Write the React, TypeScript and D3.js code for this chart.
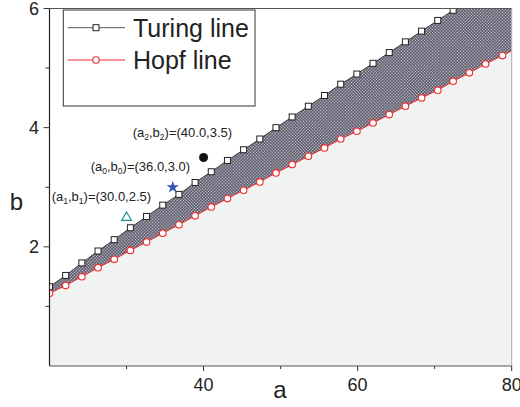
import React from "react";
import * as d3 from "d3";

// ---- Data ----
const turingA = [20.0, 22.1, 24.2, 26.3, 28.4, 30.5, 32.6, 34.7, 36.8, 38.9, 41.0, 43.1, 45.2, 47.3, 49.4, 51.5, 53.6, 55.7, 57.8, 59.9, 62.0, 64.1, 66.2, 68.3, 70.4, 72.4, 74.5, 76.6, 78.8, 80.0];
const turingB = [1.33, 1.52, 1.73, 1.93, 2.12, 2.32, 2.51, 2.70, 2.88, 3.08, 3.26, 3.45, 3.63, 3.81, 4.00, 4.18, 4.36, 4.54, 4.73, 4.90, 5.08, 5.26, 5.44, 5.62, 5.80, 5.97, 6.15, 6.33, 6.51, 6.62];
const turingMarkerCount = 29; // last value is the frame edge, no marker

const hopfA = [20.0, 22.1, 24.2, 26.3, 28.4, 30.5, 32.6, 34.7, 36.8, 38.9, 41.0, 43.1, 45.2, 47.3, 49.4, 51.5, 53.6, 55.7, 57.8, 59.9, 62.0, 64.1, 66.2, 68.3, 70.4, 72.4, 74.5, 76.6, 78.8];
const hopfB = [1.22, 1.35, 1.50, 1.65, 1.79, 1.94, 2.08, 2.23, 2.37, 2.52, 2.67, 2.81, 2.95, 3.09, 3.24, 3.38, 3.52, 3.66, 3.81, 3.94, 4.08, 4.22, 4.36, 4.50, 4.63, 4.78, 4.92, 5.07, 5.21];
const hopfEnd: [number, number] = [80, 5.29];
const hopfStart: [number, number] = [20, 0];

const xDomain = [20, 80];
const yDomain = [0, 6];
const xMajor = [40, 60, 80];
const xMinor = [30, 50, 70];
const yMajor = [2, 4, 6];
const yMinor = [1, 3, 5];

const legendLabels = ["Turing line", "Hopf line"];

const pointsA = [40.0, 36.0, 30.0];
const pointsB = [3.5, 3.0, 2.5];
const pointSub = ["2", "0", "1"];
const pointText = ["(40.0,3.5)", "(36.0,3.0)", "(30.0,2.5)"];

// ---- Layout ----
const W = 520;
const H = 407;
const L = 49.5;
const R = 511.7;
const T = 8.5;
const B = 366;
const FONT = "'Liberation Sans', Arial, Helvetica, sans-serif";
const RED = "#ee2b2b";

export default function App() {
  const x = d3.scaleLinear().domain(xDomain).range([L, R]);
  const y = d3.scaleLinear().domain(yDomain).range([B, T]);

  const turing: [number, number][] = turingA.map((a, i) => [a, turingB[i]]);
  const hopf: [number, number][] = hopfA.map((a, i) => [a, hopfB[i]]);
  const line = d3
    .line<[number, number]>()
    .x((d) => x(d[0]))
    .y((d) => y(d[1]));

  const hatchPoly = [...turing, hopfEnd, ...hopf.slice().reverse()];
  const grayPoly: [number, number][] = [hopfStart, ...hopf, hopfEnd, [80, 0]];
  const redPath: [number, number][] = [hopfStart, ...hopf, hopfEnd];

  const sq = 6;
  const star = d3.symbol().type(d3.symbolStar).size(48)() as string;
  const tri = d3.symbol().type(d3.symbolTriangle).size(40)() as string;

  const annX = [132.7, 90.7, 51.7];
  const annY = [137, 171, 200.5];

  return (
    <svg
      width={W}
      height={H}
      style={{ position: "absolute", left: 0, top: 0, background: "#fff" }}
      fontFamily={FONT}
    >
      <defs>
        <clipPath id="plotClip">
          <rect x={L} y={T} width={R - L} height={B - T} />
        </clipPath>
        <pattern
          id="hatch"
          patternUnits="userSpaceOnUse"
          width={2.2}
          height={2.2}
          patternTransform="rotate(45)"
        >
          <rect width={2.2} height={2.2} fill="#2e2d36" />
          <rect x={0.35} y={0.35} width={1.5} height={1.5} fill="#d9d7ea" />
        </pattern>
      </defs>

      <g clipPath="url(#plotClip)">
        <path d={line(grayPoly) + "Z"} fill="#f1f2f2" />
        <path d={line(hatchPoly) + "Z"} fill="url(#hatch)" />
        <path d={line(turing) as string} fill="none" stroke="#3a3a3a" strokeWidth={1} />
        <path d={line(redPath) as string} fill="none" stroke={RED} strokeWidth={1} />
        {turing.slice(0, turingMarkerCount).map((d, i) => (
          <rect
            key={"s" + i}
            x={x(d[0]) - sq / 2}
            y={y(d[1]) - sq / 2}
            width={sq}
            height={sq}
            fill="#fff"
            stroke="#222"
            strokeWidth={1}
          />
        ))}
        {hopf.map((d, i) => (
          <circle key={"c" + i} cx={x(d[0])} cy={y(d[1])} r={3.3} fill="#fff" stroke={RED} strokeWidth={1.1} />
        ))}
      </g>

      {/* frame */}
      <line x1={L} x2={R} y1={T} y2={T} stroke="#555" strokeWidth={1} />
      <line x1={R} x2={R} y1={T} y2={B} stroke="#aaa" strokeWidth={1} />
      <line x1={L} x2={R} y1={B} y2={B} stroke="#555" strokeWidth={1.2} />
      <line x1={L} x2={L} y1={T} y2={B} stroke="#222" strokeWidth={1.2} />

      {/* x ticks */}
      {xMajor.map((v) => (
        <g key={"xm" + v}>
          <line x1={x(v)} x2={x(v)} y1={B} y2={B + 5} stroke="#333" />
          <text x={x(v)} y={391} textAnchor="middle" fontSize={18} fill="#222">
            {v}
          </text>
        </g>
      ))}
      {xMinor.map((v) => (
        <line key={"xn" + v} x1={x(v)} x2={x(v)} y1={B} y2={B + 3} stroke="#333" />
      ))}

      {/* y ticks */}
      {yMajor.map((v) => (
        <g key={"ym" + v}>
          <line x1={L - 6} x2={L} y1={y(v)} y2={y(v)} stroke="#333" />
          <text x={39} y={y(v) + 6.5} textAnchor="end" fontSize={18} fill="#222">
            {v}
          </text>
        </g>
      ))}
      {yMinor.map((v) => (
        <line key={"yn" + v} x1={L - 4} x2={L} y1={y(v)} y2={y(v)} stroke="#333" />
      ))}

      {/* axis titles */}
      <text x={280} y={398} textAnchor="middle" fontSize={24} fill="#222">
        a
      </text>
      <text x={16.5} y={210} textAnchor="middle" fontSize={24} fill="#222">
        b
      </text>

      {/* special points */}
      <circle cx={x(pointsA[0])} cy={y(pointsB[0])} r={4.5} fill="#111" />
      <path d={star} transform={`translate(${x(pointsA[1])},${y(pointsB[1])})`} fill="#3553b0" />
      <path
        d={tri}
        transform={`translate(${x(pointsA[2])},${y(pointsB[2]) + 0.5})`}
        fill="none"
        stroke="#1a9090"
        strokeWidth={1.2}
      />
      {pointText.map((t, i) => (
        <text key={"ann" + i} x={annX[i]} y={annY[i]} fontSize={13} fill="#222">
          <tspan>(a</tspan>
          <tspan fontSize={8.5} dy={3}>{pointSub[i]}</tspan>
          <tspan dy={-3}>,b</tspan>
          <tspan fontSize={8.5} dy={3}>{pointSub[i]}</tspan>
          <tspan dy={-3}>)={t}</tspan>
        </text>
      ))}

      {/* legend */}
      <rect x={63.3} y={10} width={191.7} height={96} fill="#fff" stroke="#333" strokeWidth={1} />
      <line x1={67.7} x2={125} y1={27.7} y2={27.7} stroke="#555" strokeWidth={1} />
      <rect x={96 - sq / 2} y={27.7 - sq / 2} width={sq} height={sq} fill="#fff" stroke="#222" />
      <text x={133} y={36.5} fontSize={25} fill="#222">
        {legendLabels[0]}
      </text>
      <line x1={67.7} x2={125} y1={60} y2={60} stroke={RED} strokeWidth={1} />
      <circle cx={96} cy={60} r={3.3} fill="#fff" stroke={RED} strokeWidth={1.1} />
      <text x={133} y={68.5} fontSize={25} fill="#222">
        {legendLabels[1]}
      </text>
    </svg>
  );
}
